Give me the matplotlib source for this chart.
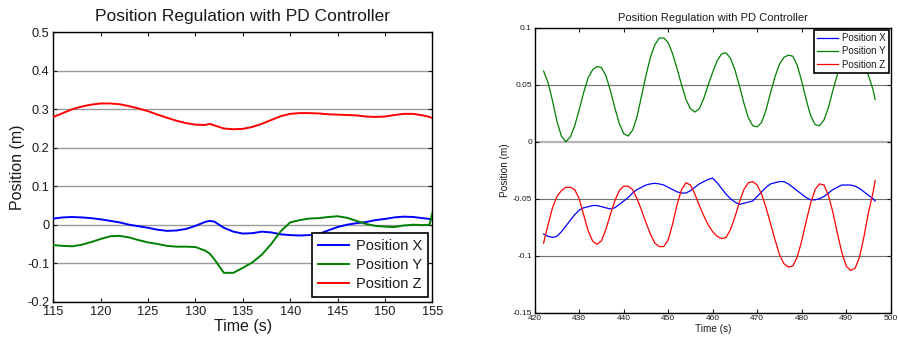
import matplotlib
matplotlib.use("Agg")
import matplotlib.pyplot as plt

plt.rcParams["font.family"] = ["Liberation Sans", "DejaVu Sans"]

# ---- left panel: 115..155 s ----
t_left = [115, 116, 117, 118, 119, 120, 121, 122, 123, 124, 125, 126, 127, 128, 129,
          130, 131, 131.5, 132, 133, 134, 135, 136, 137, 138, 139, 140, 141, 142, 143,
          144, 145, 146, 147, 148, 149, 150, 151, 152, 153, 154, 154.7, 155]
x_left = [0.016, 0.019, 0.020, 0.019, 0.017, 0.014, 0.010, 0.006, 0.000, -0.004,
          -0.008, -0.013, -0.016, -0.015, -0.011, -0.003, 0.007, 0.010, 0.008, -0.008,
          -0.018, -0.023, -0.022, -0.018, -0.020, -0.025, -0.027, -0.028, -0.027, -0.024,
          -0.015, -0.006, 0.000, 0.004, 0.007, 0.012, 0.015, 0.019, 0.021, 0.020,
          0.017, 0.015, 0.013]
y_left = [-0.053, -0.055, -0.056, -0.052, -0.045, -0.037, -0.030, -0.029, -0.033, -0.040,
          -0.046, -0.050, -0.055, -0.057, -0.057, -0.058, -0.067, -0.075, -0.090, -0.125,
          -0.125, -0.112, -0.098, -0.078, -0.050, -0.017, 0.006, 0.012, 0.016, 0.017,
          0.020, 0.022, 0.018, 0.010, 0.002, -0.003, -0.005, -0.006, -0.002, 0.000,
          -0.001, 0.000, 0.030]
z_left = [0.280, 0.290, 0.300, 0.307, 0.312, 0.315, 0.315, 0.313, 0.308, 0.302,
          0.295, 0.286, 0.278, 0.270, 0.264, 0.260, 0.259, 0.262, 0.258, 0.250,
          0.248, 0.249, 0.254, 0.262, 0.272, 0.282, 0.288, 0.290, 0.290, 0.289,
          0.287, 0.286, 0.285, 0.284, 0.281, 0.280, 0.281, 0.285, 0.288, 0.288,
          0.284, 0.280, 0.277]

# ---- right panel: 422..496.5 s ----
t_right = list(range(422, 497)) + [496.5]
x_right = [-0.081, -0.083, -0.084, -0.083, -0.079, -0.074, -0.069, -0.064, -0.060, -0.058,
           -0.057, -0.056, -0.056, -0.057, -0.058, -0.059, -0.058, -0.055, -0.052, -0.049,
           -0.045, -0.042, -0.040, -0.038, -0.037, -0.0365, -0.037, -0.038, -0.040, -0.042,
           -0.044, -0.045, -0.045, -0.043, -0.040, -0.037, -0.035, -0.033, -0.032, -0.036,
           -0.041, -0.046, -0.050, -0.053, -0.055, -0.054, -0.053, -0.052, -0.048, -0.044,
           -0.040, -0.037, -0.036, -0.035, -0.035, -0.037, -0.040, -0.043, -0.046, -0.049,
           -0.051, -0.051, -0.050, -0.048, -0.045, -0.042, -0.040, -0.038, -0.038, -0.038,
           -0.039, -0.041, -0.044, -0.047, -0.050, -0.052]
y_right = [0.062, 0.052, 0.036, 0.018, 0.005, 0.000, 0.004, 0.014, 0.028, 0.043,
           0.056, 0.063, 0.066, 0.065, 0.058, 0.045, 0.030, 0.016, 0.007, 0.005,
           0.010, 0.022, 0.040, 0.058, 0.074, 0.085, 0.091, 0.091, 0.087, 0.077,
           0.064, 0.050, 0.037, 0.029, 0.026, 0.029, 0.038, 0.050, 0.061, 0.071,
           0.077, 0.078, 0.073, 0.063, 0.049, 0.034, 0.021, 0.014, 0.013, 0.017,
           0.028, 0.043, 0.057, 0.068, 0.074, 0.076, 0.075, 0.067, 0.053, 0.037,
           0.023, 0.015, 0.014, 0.019, 0.030, 0.045, 0.059, 0.070, 0.075, 0.076,
           0.074, 0.071, 0.066, 0.058, 0.046, 0.037]
z_right = [-0.089, -0.073, -0.058, -0.048, -0.043, -0.040, -0.040, -0.042, -0.050, -0.064,
           -0.078, -0.087, -0.090, -0.087, -0.077, -0.064, -0.052, -0.043, -0.039, -0.039,
           -0.042, -0.050, -0.060, -0.071, -0.081, -0.089, -0.092, -0.092, -0.086, -0.072,
           -0.055, -0.042, -0.036, -0.038, -0.046, -0.056, -0.065, -0.073, -0.079, -0.083,
           -0.085, -0.084, -0.077, -0.066, -0.053, -0.042, -0.036, -0.035, -0.038, -0.046,
           -0.058, -0.072, -0.086, -0.099, -0.107, -0.110, -0.109, -0.101, -0.087, -0.070,
           -0.054, -0.042, -0.037, -0.038, -0.047, -0.062, -0.080, -0.097, -0.109, -0.113,
           -0.111, -0.101, -0.083, -0.062, -0.045, -0.034]

labels = ["Position X", "Position Y", "Position Z"]
colors = ["#0000ff", "#008000", "#ff0000"]
title = "Position Regulation with PD Controller"

left_xticks = [115, 120, 125, 130, 135, 140, 145, 150, 155]
left_yticks = [-0.2, -0.1, 0, 0.1, 0.2, 0.3, 0.4, 0.5]
left_yticklabels = ["-0.2", "-0.1", "0", "0.1", "0.2", "0.3", "0.4", "0.5"]
right_xticks = [420, 430, 440, 450, 460, 470, 480, 490, 500]
right_yticks = [-0.15, -0.1, -0.05, 0, 0.05, 0.1]
right_yticklabels = ["-0.15", "-0.1", "-0.05", "0", "0.05", "0.1"]

TXT = "#1a1a1a"


def style_axes(ax, fs_tick, pad):
    ax.tick_params(direction="in", top=True, right=True, labelsize=fs_tick,
                   colors=TXT, length=3, width=0.8, pad=pad)
    for sp in ax.spines.values():
        sp.set_color("black")
        sp.set_linewidth(1.0)


fig = plt.figure(figsize=(8.98, 3.45), dpi=100)

# left panel
ax1 = fig.add_axes([0.0594, 0.1255, 0.422, 0.781])
for t_vals, vals, lab, col in [(t_left, x_left, labels[0], colors[0]),
                               (t_left, y_left, labels[1], colors[1]),
                               (t_left, z_left, labels[2], colors[2])]:
    ax1.plot(t_vals, vals, color=col, lw=1.4, label=lab, zorder=3)
ax1.set_xlim(115, 155)
ax1.set_ylim(-0.2, 0.5)
ax1.set_xticks(left_xticks)
ax1.set_yticks(left_yticks)
ax1.set_yticklabels(left_yticklabels)
ax1.yaxis.grid(True, color="#9a9a9a", lw=1.0)
style_axes(ax1, 9.2, 3)
ax1.set_title(title, fontsize=12.5, color=TXT, pad=8)
ax1.set_xlabel("Time (s)", fontsize=11.5, color=TXT, labelpad=1)
ax1.set_ylabel("Position (m)", fontsize=11.5, color=TXT, labelpad=1.5)
leg1 = ax1.legend(loc="lower right", fontsize=10.5, handlelength=2.1,
                  fancybox=False, framealpha=1, edgecolor="black",
                  borderaxespad=0.3, labelspacing=0.35, handletextpad=0.5,
                  borderpad=0.4)
leg1.get_frame().set_linewidth(1.2)
for txt in leg1.get_texts():
    txt.set_color(TXT)

# right panel
ax2 = fig.add_axes([0.5954, 0.0936, 0.3965, 0.8261])
for t_vals, vals, lab, col in [(t_right, x_right, labels[0], colors[0]),
                               (t_right, y_right, labels[1], colors[1]),
                               (t_right, z_right, labels[2], colors[2])]:
    ax2.plot(t_vals, vals, color=col, lw=0.9, label=lab, zorder=3)
ax2.set_xlim(420, 500)
ax2.set_ylim(-0.15, 0.1)
ax2.set_xticks(right_xticks)
ax2.set_yticks(right_yticks)
ax2.set_yticklabels(right_yticklabels)
ax2.yaxis.grid(True, color="#707070", lw=0.8)
for val, gl in zip(right_yticks, ax2.get_ygridlines()):
    if val == 0:
        gl.set_color("#b4b4b4")
        gl.set_linewidth(1.6)
style_axes(ax2, 6, 2)
ax2.set_title(title, fontsize=8, color=TXT, pad=5)
ax2.set_xlabel("Time (s)", fontsize=7.2, color=TXT, labelpad=1)
ax2.set_ylabel("Position (m)", fontsize=7.2, color=TXT, labelpad=1.5)
leg2 = ax2.legend(loc="upper right", fontsize=7, handlelength=2.1,
                  fancybox=False, framealpha=1, edgecolor="black",
                  borderaxespad=0.2, labelspacing=0.35, handletextpad=0.4,
                  borderpad=0.35)
leg2.get_frame().set_linewidth(1.2)
for txt in leg2.get_texts():
    txt.set_color(TXT)

fig.savefig("out.png", dpi=100, facecolor="white")
